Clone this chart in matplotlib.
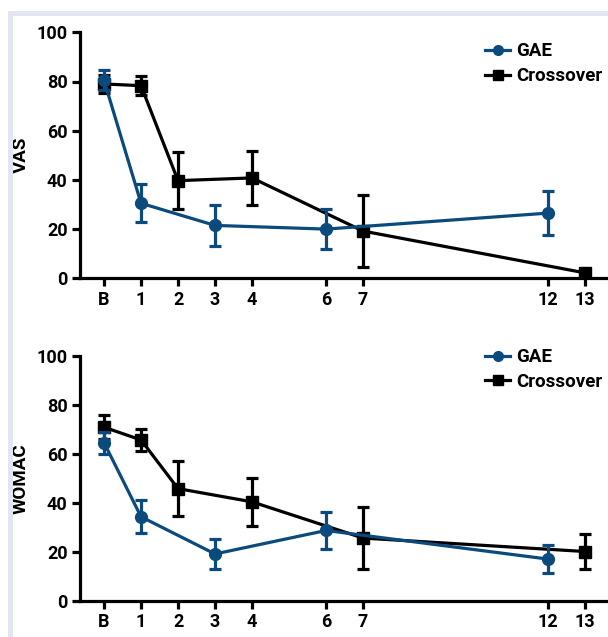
import matplotlib
matplotlib.use("Agg")
import matplotlib.pyplot as plt
from matplotlib.patches import Rectangle
from matplotlib.lines import Line2D

plt.rcParams['font.family'] = ['Roboto', 'DejaVu Sans']
plt.rcParams['font.weight'] = 'bold'

tick_pos = [0, 1, 2, 3, 4, 6, 7, 12, 13]
tick_labels = ['B', '1', '2', '3', '4', '6', '7', '12', '13']

# VAS
vas_gae_x = [0, 1, 3, 6, 12]
vas_gae_y = [80.5, 30.5, 21.5, 20.0, 26.5]
vas_gae_err = [4.0, 7.8, 8.2, 8.2, 9.0]
vas_cx_x = [0, 1, 2, 4, 7, 13]
vas_cx_y = [79.0, 78.3, 39.7, 40.8, 19.2, 2.2]
vas_cx_err = [3.8, 3.8, 11.7, 11.0, 14.5, 0.0]

# WOMAC
wom_gae_x = [0, 1, 3, 6, 12]
wom_gae_y = [64.6, 34.3, 19.1, 28.7, 17.0]
wom_gae_err = [4.5, 6.7, 6.1, 7.4, 5.8]
wom_cx_x = [0, 1, 2, 4, 7, 13]
wom_cx_y = [70.9, 65.7, 45.8, 40.4, 25.6, 20.1]
wom_cx_err = [5.0, 4.4, 11.3, 9.9, 12.8, 7.2]

blue = '#0b4a7c'
W, H = 608, 637
fig = plt.figure(figsize=(W / 100, H / 100), dpi=100)

# light frame at top/left
fig.patches.append(Rectangle((8 / W, 0), 4.5 / W, (H - 11) / H, transform=fig.transFigure,
                             facecolor='#e3e6f1', edgecolor='none', zorder=0))
fig.patches.append(Rectangle((8 / W, 1 - 15.5 / H), 1 - 8 / W, 4.5 / H, transform=fig.transFigure,
                             facecolor='#e3e6f1', edgecolor='none', zorder=0))

def panel(rect, gx, gy, ge, cx, cy, ce, ylabel, leg_top_px):
    ax = fig.add_axes(rect)
    ax.patch.set_alpha(0)
    kw = dict(linewidth=2.3, capsize=4.5, elinewidth=2.3, capthick=2.3)
    ax.errorbar(gx, gy, yerr=ge, color=blue, marker='o', markersize=8.5, zorder=3, **kw)
    ax.errorbar(cx, cy, yerr=ce, color='black', marker='s', markersize=8, zorder=2, **kw)
    ax.set_xlim(-0.649, 13.62)
    ax.set_ylim(0, 100)
    ax.set_yticks([0, 20, 40, 60, 80, 100])
    ax.set_xticks(tick_pos)
    ax.set_xticklabels(tick_labels)
    for s in ['top', 'right']:
        ax.spines[s].set_visible(False)
    for s in ['left', 'bottom']:
        ax.spines[s].set_linewidth(2.3)
    ax.tick_params(width=2.3, length=6, labelsize=13, pad=3)
    for t in ax.get_xticklabels() + ax.get_yticklabels():
        t.set_fontweight('bold')
    ax.set_ylabel(ylabel, fontsize=13.5, fontweight='bold')
    ax.yaxis.set_label_coords(-0.095, 0.5)
    handles = [Line2D([], [], color=blue, marker='o', markersize=7, linewidth=2.3),
               Line2D([], [], color='black', marker='s', markersize=7, linewidth=2.3)]
    fig.legend(handles, ['GAE', 'Crossover'], loc='upper left',
               bbox_to_anchor=(477.5 / W, 1 - leg_top_px / H),
               frameon=False, prop={'size': 13.5, 'weight': 'bold'}, handlelength=1.35,
               handletextpad=0.3, labelspacing=0.35, borderaxespad=0.0)
    return ax

panel([80 / W, 1 - 278.3 / H, 1 - 80 / W, (278.3 - 32.3) / H],
      vas_gae_x, vas_gae_y, vas_gae_err, vas_cx_x, vas_cx_y, vas_cx_err, 'VAS', 35)
panel([80 / W, 1 - 600.7 / H, 1 - 80 / W, (600.7 - 356) / H],
      wom_gae_x, wom_gae_y, wom_gae_err, wom_cx_x, wom_cx_y, wom_cx_err, 'WOMAC', 341)

fig.savefig('out.png', dpi=100)
